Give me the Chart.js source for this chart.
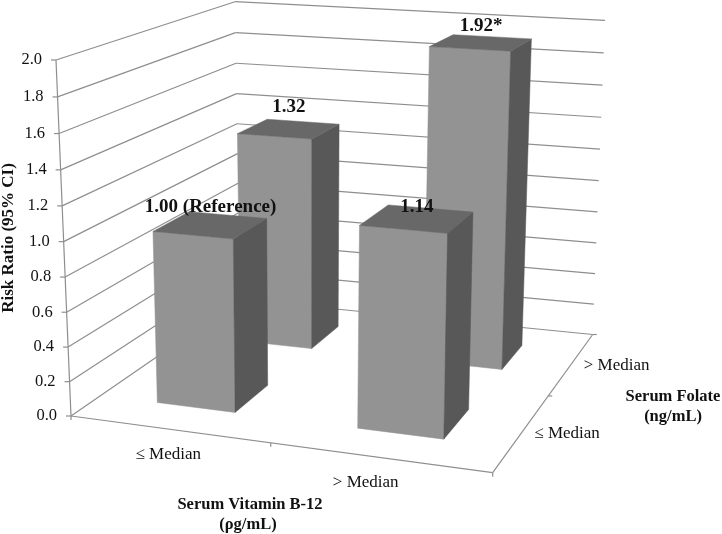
<!DOCTYPE html>
<html>
<head>
<meta charset="utf-8">
<style>
  html, body { margin: 0; padding: 0; background: #fff; }
  canvas { display: block; }
</style>
</head>
<body>
<canvas id="riskChart" width="722" height="534"></canvas>
<script src="https://cdn.jsdelivr.net/npm/chart.js@4"></script>
<script>
// data
const b12Levels = ['\u2264 Median', '> Median'];
const folateLevels = ['\u2264 Median', '> Median'];
const folateLow = [1.00, 1.14];
const folateHigh = [1.32, 1.92];
const folateLowLabels = ['1.00 (Reference)', '1.14'];
const folateHighLabels = ['1.32', '1.92*'];
const yTickLabels = ['0.0', '0.2', '0.4', '0.6', '0.8', '1.0', '1.2', '1.4', '1.6', '1.8', '2.0'];

// box corners of the 3d frame on the page: front left, front right, back right, back left
const floorCorners = [[71, 416], [492.7, 472.7], [592.7, 334.5], [240, 299.5]];
const topCorners = [[56, 60], [501, 88], [605, 20.3], [235, 1.7]];
const depthK = 0.96;
const barHalf = 0.1;
// how far each value label sits above its bar top, by folate row then b12 level
const labelLift = [[18, 12], [22, 17]];

const serif = '"Liberation Serif", "Times New Roman", serif';
const gridColor = '#8e8e8e';
const frontColor = '#939393';
const sideColor = '#585858';
const topColor = '#686868';
const textColor = '#111';

function homography(c) {
  const [p0, p1, p2, p3] = c;
  const dx1 = p1[0] - p2[0], dy1 = p1[1] - p2[1];
  const dx2 = p3[0] - p2[0], dy2 = p3[1] - p2[1];
  const sx = p0[0] - p1[0] + p2[0] - p3[0], sy = p0[1] - p1[1] + p2[1] - p3[1];
  const det = dx1 * dy2 - dx2 * dy1;
  const g = (sx * dy2 - dx2 * sy) / det;
  const h = (dx1 * sy - sx * dy1) / det;
  const a = p1[0] - p0[0] + g * p1[0], b = p3[0] - p0[0] + h * p3[0];
  const d = p1[1] - p0[1] + g * p1[1], e = p3[1] - p0[1] + h * p3[1];
  return (u, v) => {
    const w = g * u + h * v + 1;
    return [(a * u + b * v + p0[0]) / w, (d * u + e * v + p0[1]) / w];
  };
}
const floorAt = homography(floorCorners);
const topAt = homography(topCorners);

// t is the height as a 0..1 share of the y scale
function project(u, v, t) {
  const f = floorAt(u, v), c = topAt(u, v);
  return [f[0] + (c[0] - f[0]) * t, f[1] + (c[1] - f[1]) * t];
}

// linear scale whose ticks follow the perspective of the left wall
class TiltedScale extends Chart.LinearScale {
  getPixelForDecimal(d) {
    return super.getPixelForDecimal(d * depthK / (1 + d * (depthK - 1)));
  }
  share(value) {
    return (this.bottom - this.getPixelForValue(value)) / (this.bottom - this.top);
  }
  _computeLabelItems(area) {
    const items = super._computeLabelItems(area);
    items.forEach((item, i) => {
      item.options.translation[0] = project(0, 0, this.share(this.ticks[i].value))[0] - 14;
    });
    return items;
  }
}
TiltedScale.id = 'tilted';
TiltedScale.defaults = Chart.LinearScale.defaults;
Chart.register(TiltedScale);

function line(ctx, a, b) {
  ctx.beginPath();
  ctx.moveTo(a[0], a[1]);
  ctx.lineTo(b[0], b[1]);
  ctx.stroke();
}

function face(ctx, pts, color) {
  ctx.fillStyle = color;
  ctx.strokeStyle = color;
  ctx.lineWidth = 0.5;
  ctx.beginPath();
  pts.forEach((p, i) => (i ? ctx.lineTo(p[0], p[1]) : ctx.moveTo(p[0], p[1])));
  ctx.closePath();
  ctx.fill();
  ctx.stroke();
}

function drawFrame(ctx, scale) {
  ctx.strokeStyle = gridColor;
  ctx.lineWidth = 1.2;
  scale.ticks.forEach(tick => {
    const t = scale.share(tick.value);
    const a = project(0, 0, t);
    line(ctx, a, project(0, 1, t));
    line(ctx, project(0, 1, t), project(1, 1, t));
    line(ctx, a, [a[0] - 5, a[1]]);
  });
  line(ctx, project(0, 0, 0), project(0, 0, 1));
  line(ctx, project(0, 0, 0), project(1, 0, 0));
  line(ctx, project(1, 0, 0), project(1, 1, 0));
  [0, 0.5, 1].forEach(u => {
    const p = project(u, 0, 0);
    line(ctx, p, [p[0], p[1] + 4]);
  });
  [0.5, 1].forEach(v => {
    const p = project(1, v, 0);
    line(ctx, p, [p[0] + 4, p[1]]);
  });
}

function drawBox(ctx, u, v, t) {
  const u0 = u - barHalf, u1 = u + barHalf, v0 = v - barHalf, v1 = v + barHalf;
  face(ctx, [project(u0, v0, 0), project(u1, v0, 0), project(u1, v0, t), project(u0, v0, t)], frontColor);
  face(ctx, [project(u1, v0, 0), project(u1, v1, 0), project(u1, v1, t), project(u1, v0, t)], sideColor);
  face(ctx, [project(u0, v0, t), project(u1, v0, t), project(u1, v1, t), project(u0, v1, t)], topColor);
}

const box3d = {
  id: 'box3d',
  beforeDatasetsDraw(chart) {
    const ctx = chart.ctx;
    const scale = chart.scales.y;
    ctx.save();
    drawFrame(ctx, scale);

    // back row first, the front row covers it
    const n = chart.data.datasets.length;
    for (let s = n - 1; s >= 0; s--) {
      chart.getDatasetMeta(s).data.forEach((bar, i) => {
        const t = (scale.bottom - bar.y) / (scale.bottom - scale.top);
        drawBox(ctx, (i + 0.5) / b12Levels.length, (s + 0.5) / n, t);
      });
    }

    ctx.fillStyle = textColor;
    ctx.textAlign = 'center';
    ctx.textBaseline = 'middle';

    ctx.font = 'bold 19px ' + serif;
    chart.data.datasets.forEach((ds, s) => {
      chart.getDatasetMeta(s).data.forEach((bar, i) => {
        const t = (scale.bottom - bar.y) / (scale.bottom - scale.top);
        const p = project((i + 0.5) / b12Levels.length, (s + 0.5) / n, t);
        ctx.fillText(ds.valueLabels[i], p[0], p[1] - labelLift[s][i]);
      });
    });

    ctx.font = '17px ' + serif;
    b12Levels.forEach((label, i) => {
      const p = project((i + 0.5) / b12Levels.length, 0, 0);
      ctx.fillText(label, p[0] - 13 * i, p[1] + 25);
    });
    folateLevels.forEach((label, i) => {
      const p = project(1, (i + 0.5) / folateLevels.length, 0);
      ctx.fillText(label, p[0] + 45, p[1] + 1.5);
    });

    ctx.font = 'bold 16.5px ' + serif;
    ctx.fillText('Serum Vitamin B-12', 250, 505);
    ctx.fillText('(\u03c1g/mL)', 248, 525);
    ctx.fillText('Serum Folate', 673, 397);
    ctx.fillText('(ng/mL)', 673, 417);
    ctx.restore();
    return false;
  }
};

new Chart(document.getElementById('riskChart'), {
  type: 'bar',
  data: {
    labels: b12Levels,
    datasets: [
      { label: 'Folate ' + folateLevels[0], data: folateLow, valueLabels: folateLowLabels, backgroundColor: frontColor },
      { label: 'Folate ' + folateLevels[1], data: folateHigh, valueLabels: folateHighLabels, backgroundColor: frontColor }
    ]
  },
  options: {
    responsive: false,
    animation: false,
    layout: { padding: { top: 60, bottom: 118, left: 0, right: 0 } },
    plugins: { legend: { display: false }, tooltip: { enabled: false } },
    scales: {
      x: { display: false },
      y: {
        type: 'tilted',
        min: 0,
        max: 2,
        grid: { display: false },
        border: { display: false },
        afterFit(scale) { scale.width = 71; },
        ticks: {
          stepSize: 0.2,
          color: textColor,
          font: { family: serif, size: 16.5 },
          callback: (value, i) => yTickLabels[i]
        },
        title: {
          display: true,
          text: 'Risk Ratio (95% CI)',
          color: textColor,
          padding: 0,
          font: { family: serif, size: 17, weight: 'bold', lineHeight: 1 }
        }
      }
    }
  },
  plugins: [box3d]
});
</script>
</body>
</html>
